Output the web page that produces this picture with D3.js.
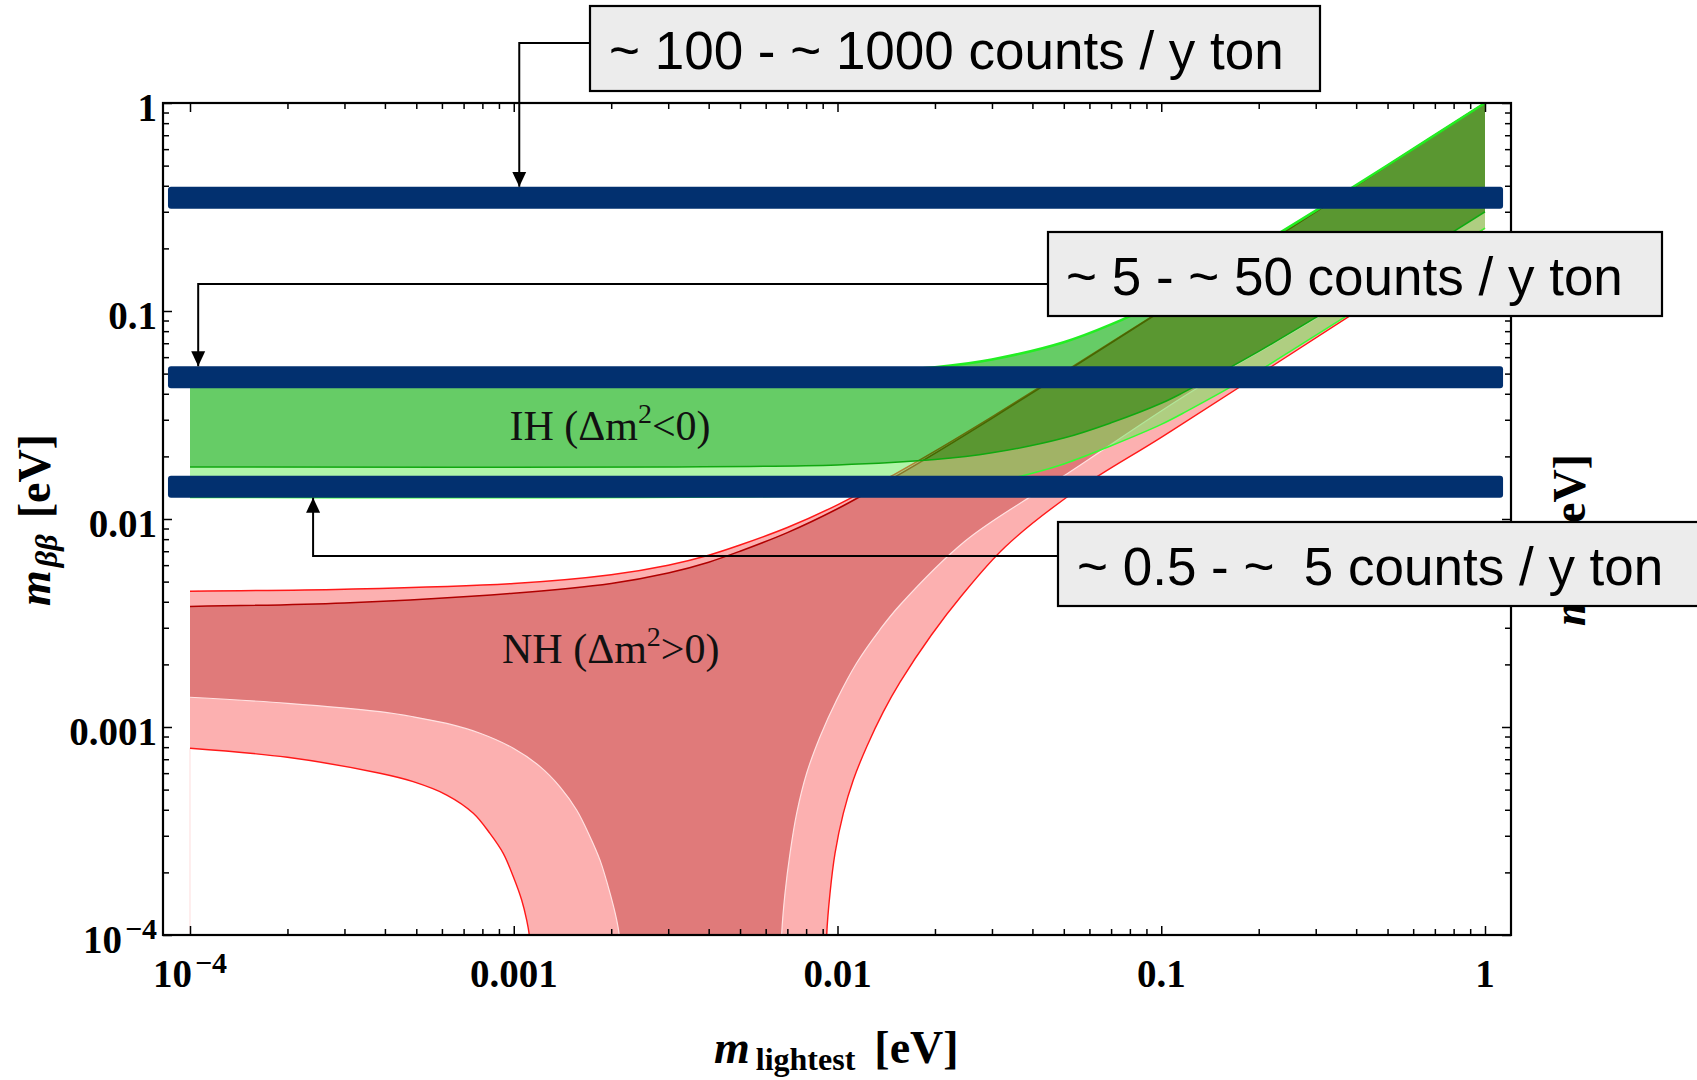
<!DOCTYPE html>
<html lang="en">
<head>
<meta charset="UTF-8">
<title>m_bb versus m_lightest</title>
<script src="https://d3js.org/d3.v7.min.js"></script>
<style>
  body { margin: 0; background: #fff; }
  .serif { font-family: "Liberation Serif", "Times New Roman", serif; }
  .sans { font-family: "Liberation Sans", Arial, sans-serif; white-space: pre; }
</style>
</head>
<body>
<div id="chart"></div>
<script>
// ---------- data (eV) ----------
const majorTicks = [1e-4, 1e-3, 1e-2, 0.1, 1];
const xTickLabels = ["10^\u22124", "0.001", "0.01", "0.1", "1"];
const yTickLabels = ["10^\u22124", "0.001", "0.01", "0.1", "1"];

// normal hierarchy, 3 sigma (light) and best fit (dark) edges
const nhUpper3 = [[1e-4,0.0045],[3e-4,0.0046],[1e-3,0.0049],[2e-3,0.0054],[3e-3,0.0060],[4e-3,0.0067],[5e-3,0.0075],[7e-3,0.0091],[0.01,0.0117],[0.015,0.0164],[0.02,0.0212],[0.03,0.031],[0.05,0.0508],[0.1,0.1005],[0.3,0.3],[1,1]];
const nhUpper1 = [[1e-4,0.0038],[3e-4,0.00395],[1e-3,0.0044],[2e-3,0.0049],[3e-3,0.0055],[4e-3,0.0062],[5e-3,0.0070],[7e-3,0.0086],[0.01,0.0112],[0.015,0.0159],[0.02,0.0207],[0.03,0.0305],[0.05,0.0503],[0.1,0.1],[0.3,0.3],[1,1]];
const nhLower1 = [[1e-4,0.00139],[2e-4,0.0013],[3.86e-4,0.001185],[4.89e-4,0.00112],[6.21e-4,0.00104],[7.87e-4,0.000933],[9.97e-4,0.00079],[1.206e-3,0.000645],[1.389e-3,0.000516],[1.564e-3,0.000399],[1.72e-3,0.000297],[1.847e-3,0.000229],[1.983e-3,0.000159],[2.08e-3,0.000118],[2.118e-3,1.0e-4],[2.15e-3,7e-5],[2.2e-3,3e-5],[6.6e-3,3e-5],[6.68e-3,7e-5],[6.725e-3,1.02e-4],[6.884e-3,1.586e-4],[7.134e-3,2.47e-4],[7.482e-3,3.85e-4],[8.03e-3,5.99e-4],[8.83e-3,8.98e-4],[9.94e-3,0.001348],[0.01146,0.002031],[0.01353,0.002942],[0.0156,0.00386],[0.0248,0.007836],[0.0393,0.012761],[0.0515,0.0166],[0.1167,0.0386],[0.3,0.092],[1,0.30]];
const nhLower3 = [[1e-4,7.9e-4],[2e-4,7.15e-4],[3.86e-4,5.99e-4],[4.89e-4,5.46e-4],[6.21e-4,4.71e-4],[7.5e-4,3.85e-4],[8.44e-4,3.08e-4],[9.28e-4,2.47e-4],[9.97e-4,1.907e-4],[1.058e-3,1.474e-4],[1.0965e-3,1.18e-4],[1.117e-3,1.0e-4],[1.135e-3,7e-5],[1.16e-3,3e-5],[9.2e-3,3e-5],[9.24e-3,7e-5],[9.26e-3,1.0e-4],[9.48e-3,1.586e-4],[9.824e-3,2.47e-4],[0.010421,3.846e-4],[0.011188,5.563e-4],[0.012308,8.04e-4],[0.013848,0.001183],[0.015601,0.001644],[0.0195,0.002769],[0.0242,0.004287],[0.033,0.007359],[0.0549,0.013785],[0.1,0.0247],[0.218,0.0538],[1,0.25]];

// inverted hierarchy
const ihUpper = [[1e-4,0.0495],[0.003,0.0496],[0.01,0.0505],[0.02,0.0537],[0.03,0.0585],[0.05,0.0708],[0.07,0.0862],[0.1,0.112],[0.15,0.158],[0.2,0.206],[0.3,0.304],[0.5,0.502],[1,1.0]];
const ihLower1 = [[1e-4,0.0178],[0.003,0.0178],[0.01,0.0182],[0.02,0.0193],[0.03,0.0208],[0.05,0.0245],[0.07,0.029],[0.1,0.036],[0.1167,0.0405],[0.2,0.064],[0.3,0.093],[0.5,0.152],[1,0.30]];
const ihLower3 = [[1e-4,0.0127],[0.01,0.013],[0.02,0.0138],[0.03,0.015],[0.04,0.0166],[0.05,0.0184],[0.07,0.0225],[0.1,0.0285],[0.12,0.033],[0.2,0.0515],[0.27,0.069],[0.5,0.126],[1,0.25]];

// sensitivity levels (horizontal bars) and their x extent
const sensitivityLevels = [0.35, 0.048, 0.0143];
const sensitivityRange = [8.55e-5, 1.137];
const calloutTexts = ["~ 100 - ~ 1000 counts / y ton", "~ 5 - ~ 50 counts / y ton", "~ 0.5 - ~  5 counts / y ton"];
const calloutTargetX = [1.04e-3, 1.06e-4, 2.4e-4];

const regionLabels = [
  { name: "IH", sign: "<", x: 9.7e-4, y: 0.024 },
  { name: "NH", sign: ">", x: 9.2e-4, y: 0.00203 }
];

// ---------- layout ----------
const W = 1697, H = 1080;
const frame = { left: 163, top: 103, right: 1511, bottom: 935 };
const boxes = [
  { x: 590, y: 6, w: 730, h: 85, tx: 609, ty: 69, ay: 43, dir: "down" },
  { x: 1048, y: 232, w: 614, h: 84, tx: 1066, ty: 295, ay: 284, dir: "down" },
  { x: 1058, y: 522, w: 660, h: 84, tx: 1077, ty: 585, ay: 556, dir: "up" }
];
const barHalf = 11;

const x = d3.scaleLog().domain([1e-4, 1]).range([190, 1485]);
const y = d3.scaleLog().domain([1e-4, 1]).range([935, 103]);

const svg = d3.select("#chart").append("svg")
    .attr("width", W).attr("height", H);

const defs = svg.append("defs");
defs.append("clipPath").attr("id", "plotClip").append("rect")
    .attr("x", frame.left).attr("y", frame.top)
    .attr("width", frame.right - frame.left).attr("height", frame.bottom - frame.top);
defs.append("marker").attr("id", "arrowHead")
    .attr("markerUnits", "userSpaceOnUse")
    .attr("viewBox", "0 -8 16 16")
    .attr("markerWidth", 16).attr("markerHeight", 16)
    .attr("refX", 15).attr("refY", 0).attr("orient", "auto")
  .append("path").attr("d", "M0,-7L15,0L0,7Z").attr("fill", "#000");

const line = d3.line().x(d => x(d[0])).y(d => y(d[1])).curve(d3.curveCatmullRom.alpha(0.5));
function band(upper, lower) {
    const a = line(upper);
    const b = line(lower.slice().reverse());
    return a + "L" + b.slice(1) + "Z";
}

const plot = svg.append("g").attr("clip-path", "url(#plotClip)");

// normal hierarchy (opaque)
plot.append("path").attr("d", band(nhUpper3, nhLower3)).attr("fill", "#fcb0b0");
plot.append("path").attr("d", band(nhUpper1, nhLower1)).attr("fill", "#e07a7a");
plot.append("line")
    .attr("x1", x(nhLower3[0][0])).attr("x2", x(nhLower3[0][0]))
    .attr("y1", y(nhLower3[0][1])).attr("y2", y(1e-4))
    .attr("stroke", "#fde2e2").attr("stroke-width", 1.2);
plot.append("path").attr("d", line(nhLower1)).attr("fill", "none").attr("stroke", "#ffe2e2").attr("stroke-width", 1.2);
plot.append("path").attr("d", line(nhLower3)).attr("fill", "none").attr("stroke", "#ff1818").attr("stroke-width", 1.4);
plot.append("path").attr("d", line(nhUpper3)).attr("fill", "none").attr("stroke", "#ff1818").attr("stroke-width", 1.5);
plot.append("path").attr("d", line(nhUpper1)).attr("fill", "none").attr("stroke", "#b00000").attr("stroke-width", 1.5);

// inverted hierarchy (translucent)
plot.append("path").attr("d", band(ihLower1, ihLower3)).attr("fill", "rgb(97,235,81)").attr("fill-opacity", 0.5);
plot.append("path").attr("d", band(ihUpper, ihLower1)).attr("fill", "rgb(0,170,0)").attr("fill-opacity", 0.6);
plot.append("path").attr("d", line(ihLower3)).attr("fill", "none").attr("stroke", "#33ff33").attr("stroke-width", 1.5);
plot.append("path").attr("d", line(ihLower1)).attr("fill", "none").attr("stroke", "#10a810").attr("stroke-width", 1.5);
plot.append("path").attr("d", line(ihUpper)).attr("fill", "none").attr("stroke", "#22ee22").attr("stroke-width", 2.5);

// region labels
regionLabels.forEach(l => {
    const t = svg.append("text").attr("class", "serif")
        .attr("x", x(l.x)).attr("y", y(l.y))
        .attr("font-size", 42).attr("fill", "#111");
    t.append("tspan").text(l.name + " (\u0394m");
    t.append("tspan").attr("font-size", 28).attr("dy", -17).text("2");
    t.append("tspan").attr("dy", 17).text(l.sign + "0)");
});

// ticks on all four sides, pointing inward
const allTicks = x.ticks();
const minorTicks = allTicks.filter(v => !majorTicks.some(m => Math.abs(v / m - 1) < 1e-9));
function addAxis(axisFn, scale, vals, size, transform) {
    svg.append("g").attr("transform", transform)
        .call(axisFn(scale).tickValues(vals).tickSize(-size).tickFormat(""))
        .call(g => g.select(".domain").remove())
        .call(g => g.selectAll(".tick line").attr("stroke", "#000").attr("stroke-width", 1.5));
}
[[majorTicks, 9], [minorTicks, 6]].forEach(([vals, size]) => {
    addAxis(d3.axisBottom, x, vals, size, `translate(0,${frame.bottom})`);
    addAxis(d3.axisTop, x, vals, size, `translate(0,${frame.top})`);
    addAxis(d3.axisLeft, y, vals, size, `translate(${frame.left},0)`);
    addAxis(d3.axisRight, y, vals, size, `translate(${frame.right},0)`);
});

svg.append("rect")
    .attr("x", frame.left).attr("y", frame.top)
    .attr("width", frame.right - frame.left).attr("height", frame.bottom - frame.top)
    .attr("fill", "none").attr("stroke", "#000").attr("stroke-width", 2.2);

// tick labels
function tickLabel(sel, label) {
    const parts = label.split("^");
    sel.append("tspan").text(parts[0]);
    if (parts[1]) sel.append("tspan").attr("font-size", 30).attr("dx", 3).attr("dy", -14).text(parts[1]);
}
majorTicks.forEach((v, i) => {
    const tx = svg.append("text").attr("class", "serif")
        .attr("x", x(v)).attr("y", 987)
        .attr("text-anchor", "middle").attr("font-size", 39).attr("font-weight", "bold");
    tickLabel(tx, xTickLabels[i]);
    const ty = svg.append("text").attr("class", "serif")
        .attr("x", 157).attr("y", y(v) + 18)
        .attr("text-anchor", "end").attr("font-size", 39).attr("font-weight", "bold");
    tickLabel(ty, yTickLabels[i]);
});

// axis titles
const xTitle = svg.append("text").attr("class", "serif")
    .attr("x", 714).attr("y", 1063).attr("font-size", 46).attr("font-weight", "bold");
xTitle.append("tspan").attr("font-style", "italic").text("m");
xTitle.append("tspan").attr("font-size", 32).attr("dx", 6).attr("dy", 7).text("lightest");
xTitle.append("tspan").attr("dx", 19).attr("dy", -7).text("[eV]");

function yTitle(cx, cy) {
    const t = svg.append("text").attr("class", "serif")
        .attr("transform", `translate(${cx},${cy}) rotate(-90)`)
        .attr("text-anchor", "middle").attr("font-size", 46).attr("font-weight", "bold");
    t.append("tspan").attr("font-style", "italic").text("m");
    t.append("tspan").attr("font-style", "italic").attr("font-size", 32).attr("dx", 3).attr("dy", 7).text("\u03b2\u03b2");
    t.append("tspan").attr("dx", 16).attr("dy", -7).text("[eV]");
}
yTitle(50, 520);
yTitle(1585, 540);

// sensitivity bars
svg.selectAll(".level").data(sensitivityLevels).join("rect")
    .attr("class", "level")
    .attr("x", x(sensitivityRange[0]))
    .attr("width", x(sensitivityRange[1]) - x(sensitivityRange[0]))
    .attr("y", d => y(d) - barHalf).attr("height", barHalf * 2)
    .attr("rx", 3).attr("fill", "#02306f");

// callouts
boxes.forEach((b, i) => {
    const level = y(sensitivityLevels[i]);
    const tipY = b.dir === "down" ? level - barHalf : level + barHalf;
    svg.append("path")
        .attr("d", `M${b.x},${b.ay}H${x(calloutTargetX[i])}V${tipY}`)
        .attr("fill", "none").attr("stroke", "#000").attr("stroke-width", 2)
        .attr("marker-end", "url(#arrowHead)");
    svg.append("rect")
        .attr("x", b.x).attr("y", b.y).attr("width", b.w).attr("height", b.h)
        .attr("fill", "#ececec").attr("stroke", "#000").attr("stroke-width", 2.2);
    svg.append("text").attr("class", "sans")
        .attr("x", b.tx).attr("y", b.ty)
        .attr("font-size", 53).attr("fill", "#000")
        .text(calloutTexts[i]);
});
</script>
</body>
</html>
